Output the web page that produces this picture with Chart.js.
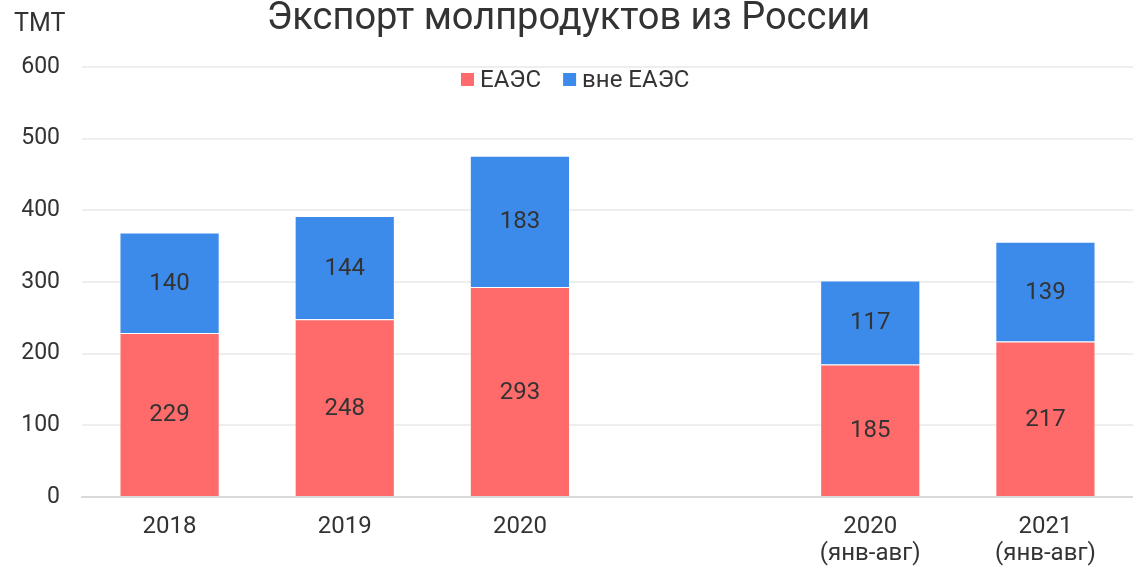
<!DOCTYPE html>
<html lang="ru">
<head>
    <meta charset="UTF-8">
    <title>Экспорт молпродуктов из России</title>
    <style>
        html, body { margin: 0; padding: 0; background: #fff; }
        .container { width: 1133px; height: 570px; }
    </style>
</head>
<body>
<div class="container"><canvas id="chart"></canvas></div>

<script src="https://cdn.jsdelivr.net/npm/chart.js"></script>
<script>
    // Данные
    const categories = [['2018'], ['2019'], ['2020'], [''], ['2020', '(янв-авг)'], ['2021', '(янв-авг)']];
    const eaes = [229, 248, 293, null, 185, 217];
    const outsideEaes = [140, 144, 183, null, 117, 139];
    const yTicks = [0, 100, 200, 300, 400, 500, 600];

    const FONT = 'Roboto, "Noto Sans", sans-serif';
    const TEXT = '#333333';

    // Подписи внутри столбцов, заголовок, единицы и легенда
    const overlay = {
        id: 'overlay',
        afterDatasetsDraw(chart) {
            const ctx = chart.ctx;
            ctx.save();
            ctx.fillStyle = TEXT;
            ctx.textAlign = 'center';
            ctx.textBaseline = 'middle';
            ctx.font = '24px ' + FONT;
            chart.data.datasets.forEach((ds, i) => {
                chart.getDatasetMeta(i).data.forEach((bar, j) => {
                    if (ds.data[j] == null) return;
                    const p = bar.getProps(['x', 'y', 'base'], true);
                    ctx.fillText(ds.data[j], p.x, (p.y + p.base) / 2 + 1);
                });
            });

            // заголовок
            ctx.font = '38px ' + FONT;
            ctx.fillText('Экспорт молпродуктов из России', chart.width / 2 + 2, 19);

            // единицы
            ctx.font = '25px ' + FONT;
            ctx.textAlign = 'left';
            ctx.fillText('ТМТ', 14, 25);

            // легенда
            ctx.font = '24px ' + FONT;
            let x = 461;
            const y = 80;
            chart.data.datasets.forEach(ds => {
                ctx.fillStyle = ds.backgroundColor;
                ctx.fillRect(x, y - 7, 13, 13);
                ctx.fillStyle = TEXT;
                ctx.fillText(ds.label, x + 19, y + 1);
                x += 19 + ctx.measureText(ds.label).width + 22;
            });
            ctx.restore();
        }
    };

    new Chart(document.getElementById('chart'), {
        type: 'bar',
        data: {
            labels: categories,
            datasets: [
                {
                    label: 'ЕАЭС',
                    data: eaes,
                    backgroundColor: '#FF6B6B',
                    borderColor: 'rgba(255,255,255,0.4)',
                    borderWidth: 1,
                    barPercentage: 0.572,
                    categoryPercentage: 1
                },
                {
                    label: 'вне ЕАЭС',
                    data: outsideEaes,
                    backgroundColor: '#3C8BEB',
                    borderColor: 'rgba(255,255,255,0.4)',
                    borderWidth: 1,
                    barPercentage: 0.572,
                    categoryPercentage: 1
                }
            ]
        },
        options: {
            responsive: true,
            maintainAspectRatio: false,
            animation: false,
            layout: { padding: { top: 67, left: 22, right: 0, bottom: 0 } },
            plugins: {
                legend: { display: false },
                tooltip: { enabled: false }
            },
            scales: {
                x: {
                    stacked: true,
                    afterFit(axis) { axis.height = 73; },
                    grid: { display: false, drawTicks: false },
                    border: { color: '#d9d9d9', width: 2 },
                    ticks: {
                        color: TEXT,
                        font: { family: FONT, size: 24, lineHeight: 1.1 },
                        padding: 17,
                        maxRotation: 0
                    }
                },
                y: {
                    stacked: true,
                    min: 0,
                    max: 600,
                    afterFit(axis) { axis.width = 60; },
                    afterBuildTicks(axis) { axis.ticks = yTicks.map(v => ({ value: v })); },
                    grid: { color: '#eeeeee', lineWidth: 2, drawTicks: false },
                    border: { display: false },
                    ticks: {
                        color: TEXT,
                        font: { family: FONT, size: 23 },
                        padding: 22
                    }
                }
            }
        },
        plugins: [overlay]
    });
</script>
</body>
</html>
